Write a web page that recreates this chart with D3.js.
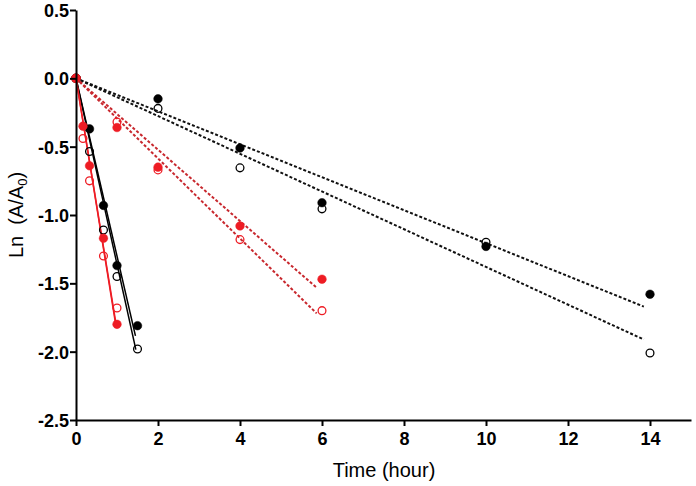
<!DOCTYPE html>
<html><head><meta charset="utf-8">
<script src="https://cdn.jsdelivr.net/npm/d3@7/dist/d3.min.js"></script>
<style>body{margin:0;background:#fff}svg{display:block}</style>
</head><body>
<svg id="c" width="696" height="486"></svg>
<script>
// Time points (hour)
const blackFastTimes = [0, 0.33, 0.67, 1, 1.5];
const redFastTimes = [0, 0.17, 0.33, 0.67, 1];
const blackSlowTimes = [0, 2, 4, 6, 10, 14];
const redSlowTimes = [0, 1, 2, 4, 6];
// Ln(A/A0) values
const blackFastFilled = [0, -0.37, -0.93, -1.37, -1.81];
const blackFastOpen = [0, -0.535, -1.11, -1.45, -1.98];
const redFastFilled = [0, -0.35, -0.64, -1.17, -1.80];
const redFastOpen = [0, -0.44, -0.75, -1.30, -1.68];
const blackSlowFilled = [0, -0.15, -0.51, -0.91, -1.23, -1.58];
const blackSlowOpen = [0, -0.22, -0.655, -0.955, -1.20, -2.01];
const redSlowFilled = [0, -0.36, -0.65, -1.08, -1.47];
const redSlowOpen = [0, -0.32, -0.67, -1.18, -1.70];
// Fitted lines: slope and end time
const fitSlopes = [-1.30, -1.36, -1.86, -1.84, -0.1206, -0.138, -0.261, -0.293];
const fitEnds = [1.45, 1.46, 0.97, 0.97, 13.85, 13.85, 5.87, 5.87];
const xTicks = [0, 2, 4, 6, 8, 10, 12, 14];
const yTicks = [0.5, 0.0, -0.5, -1.0, -1.5, -2.0, -2.5];

const RED = "#ee1c24", DRED = "#c8282e", BLACK = "#000";
const series = [
  {t: blackFastTimes, v: blackFastFilled, c: BLACK, fill: true, dash: false},
  {t: blackFastTimes, v: blackFastOpen, c: BLACK, fill: false, dash: false},
  {t: redFastTimes, v: redFastFilled, c: RED, fill: true, dash: false},
  {t: redFastTimes, v: redFastOpen, c: RED, fill: false, dash: false},
  {t: blackSlowTimes, v: blackSlowFilled, c: BLACK, fill: true, dash: true},
  {t: blackSlowTimes, v: blackSlowOpen, c: BLACK, fill: false, dash: true},
  {t: redSlowTimes, v: redSlowFilled, c: RED, fill: true, dash: true},
  {t: redSlowTimes, v: redSlowOpen, c: RED, fill: false, dash: true}
];

const svg = d3.select("#c");
const x = d3.scaleLinear().domain([0, 15]).range([76, 691]);
const y = d3.scaleLinear().domain([-2.5, 0.5]).range([420, 10]);

// fitted lines
const line = d3.line().x(d => x(d[0])).y(d => y(d[1]));
const lines = svg.append("g");
series.forEach((s, i) => {
  const end = fitEnds[i];
  lines.append("path")
    .attr("d", line([[0, 0], [end, fitSlopes[i] * end]]))
    .attr("fill", "none")
    .attr("stroke", s.dash ? (s.c === RED ? DRED : "#111") : s.c)
    .attr("stroke-width", s.dash ? 2 : 1.5)
    .attr("stroke-dasharray", s.dash ? "3,2" : null);
});

// points
const pts = svg.append("g");
series.forEach(s => {
  pts.selectAll(null).data(s.t.map((t, j) => [t, s.v[j]])).enter()
    .append("circle")
    .attr("cx", d => x(d[0])).attr("cy", d => y(d[1]))
    .attr("r", s.fill ? 4.3 : 3.9)
    .attr("fill", s.fill ? s.c : "#fff")
    .attr("fill-opacity", s.fill ? 1 : 0)
    .attr("stroke", s.c)
    .attr("stroke-width", s.fill ? 0.5 : 1.3);
});
// origin point drawn red on top
pts.append("circle").attr("cx", x(0)).attr("cy", y(0)).attr("r", 4.5).attr("fill", RED);

// axes
const font = "'Liberation Sans', Arial, sans-serif";
const xAxis = svg.append("g").attr("transform", "translate(0,420)")
  .call(d3.axisBottom(x).tickValues(xTicks).tickSize(6).tickSizeOuter(0).tickFormat(d => String(d)));
const yAxis = svg.append("g").attr("transform", "translate(76,0)")
  .call(d3.axisLeft(y).tickValues(yTicks).tickSize(6).tickSizeOuter(0).tickFormat(d => d.toFixed(1)));
[xAxis, yAxis].forEach(a => {
  a.select(".domain").attr("stroke", "#000").attr("stroke-width", 2);
  a.selectAll(".tick line").attr("stroke", "#000").attr("stroke-width", 2);
  a.selectAll("text").attr("font-family", font).attr("font-weight", "bold")
    .attr("font-size", 18).attr("fill", "#000");
});
xAxis.selectAll("text").attr("y", 8).attr("dy", "0.95em");
yAxis.selectAll("text").attr("x", -7).attr("dy", "0.36em");

// axis titles
svg.append("text").attr("x", 384).attr("y", 477).attr("text-anchor", "middle")
  .attr("font-family", font).attr("font-size", 20).text("Time (hour)");
const yl = svg.append("text").attr("transform", "translate(23,215) rotate(-90)")
  .attr("text-anchor", "middle").attr("font-family", font).attr("font-size", 20)
  .attr("xml:space", "preserve").style("white-space", "pre");
yl.append("tspan").text("Ln  (A/A");
yl.append("tspan").attr("font-size", 13).attr("dy", 4).text("0");
yl.append("tspan").attr("dy", -4).text(")");
</script>
</body></html>
